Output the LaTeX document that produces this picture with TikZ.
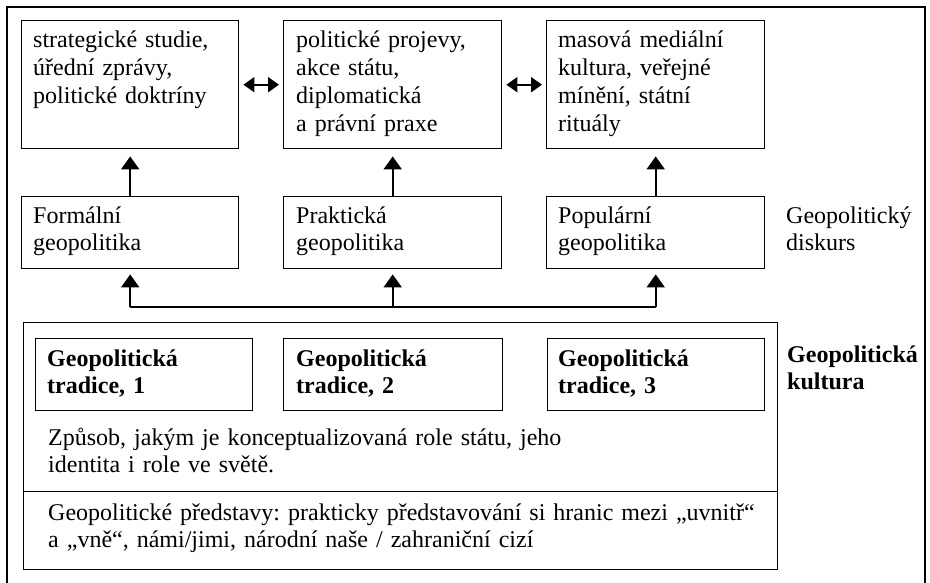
\documentclass[tikz,border=0pt]{standalone}
\usepackage{fontspec}
\setmainfont{Liberation Serif}
\usetikzlibrary{arrows.meta}
\begin{document}
\frenchspacing
\begin{tikzpicture}[x=1pt,y=-1pt,
  box/.style={draw=black, line width=1.4pt, inner sep=0pt, anchor=north west},
  bigbox/.style={draw=black, line width=1pt, inner sep=0pt, anchor=north west},
  txt/.style={inner sep=0pt, anchor=base west, align=left, text width=260pt,
    font=\fontsize{24}{27.7}\selectfont\frenchspacing},
  btxt/.style={txt, font=\fontsize{24}{27.7}\selectfont\bfseries\frenchspacing},
  arr/.style={line width=2pt, -{Triangle[width=18pt,length=13pt]}},
  darr/.style={line width=2pt, {Triangle[width=15pt,length=11pt]}-{Triangle[width=15pt,length=11pt]}}
]
\useasboundingbox (0,0) rectangle (930,583);
% outer frame
\draw[line width=1.3pt] (7,600) -- (7,7) -- (925,7) -- (925,600);
% top boxes
\node[box, minimum width=217pt, minimum height=128pt] (top1) at (21,20) {};
\node[box, minimum width=218pt, minimum height=128pt] (top2) at (283,20) {};
\node[box, minimum width=218pt, minimum height=128pt] (top3) at (546,20) {};
% middle boxes
\node[box, minimum width=217pt, minimum height=72pt] (mid1) at (21,196) {};
\node[box, minimum width=218pt, minimum height=72pt] (mid2) at (283,196) {};
\node[box, minimum width=218pt, minimum height=72pt] (mid3) at (546,196) {};
% big box
\node[bigbox, minimum width=754pt, minimum height=247pt] (big) at (23,322) {};
\coordinate (divL) at (23,491);
\coordinate (divR) at (777,491);
\draw[line width=1pt] (divL) -- (divR);
% tradition boxes
\node[box, line width=1.2pt, minimum width=217pt, minimum height=72pt] (tr1) at (35,338) {};
\node[box, line width=1.2pt, minimum width=219pt, minimum height=72pt] (tr2) at (283,338) {};
\node[box, line width=1.2pt, minimum width=217pt, minimum height=72pt] (tr3) at (547,338) {};
% texts
\node[txt] (t1) at (33,48) {strategické studie,\\úřední zprávy,\\politické doktríny};
\node[txt] (t2) at (296,48) {politické projevy,\\akce státu,\\diplomatická\\a právní praxe};
\node[txt] (t3) at (558,48) {masová mediální\\kultura, veřejné\\mínění, státní\\rituály};
\node[txt] (m1) at (33,223) {Formální\\geopolitika};
\node[txt] (m2) at (296,223) {Praktická\\geopolitika};
\node[txt] (m3) at (558,223) {Populární\\geopolitika};
\node[txt, text width=140pt] (disk) at (786,223) {Geopolitický\\diskurs};
\node[btxt] (g1) at (47,366) {Geopolitická\\tradice, 1};
\node[btxt] (g2) at (296,366) {Geopolitická\\tradice, 2};
\node[btxt] (g3) at (558,366) {Geopolitická\\tradice, 3};
\node[btxt, text width=140pt] (kult) at (787,362) {Geopolitická\\kultura};
\node[txt, text width=700pt] (zp) at (48,445) {Způsob, jakým je konceptualizovaná role státu, jeho\\identita i role ve světě.};
\node[txt, text width=720pt] (pr) at (48,520) {Geopolitické představy: prakticky představování si hranic mezi „uvnitř“\\a „vně“, námi/jimi, národní naše / zahraniční cizí};
% arrows between top boxes
\draw[darr, shorten <=4pt, shorten >=4pt] (top1.east) -- (top2.west);
\draw[darr, shorten <=4pt, shorten >=4pt] (top2.east) -- (top3.west);
% arrows middle -> top
\draw[arr, shorten >=7pt] (mid1.north) -- (top1.south);
\draw[arr, shorten >=7pt] (mid2.north) -- (top2.south);
\draw[arr, shorten >=7pt] (mid3.north) -- (top3.south);
% bottom tree
\coordinate (h1) at (mid1.south |- 0,307);
\coordinate (h2) at (mid2.south |- 0,307);
\coordinate (h3) at (mid3.south |- 0,307);
\draw[line width=2pt] (h1) -- (h3);
\draw[arr, shorten >=5pt] (h1) -- (mid1.south);
\draw[arr, shorten >=5pt] (h2) -- (mid2.south);
\draw[arr, shorten >=5pt] (h3) -- (mid3.south);
\end{tikzpicture}
\end{document}
